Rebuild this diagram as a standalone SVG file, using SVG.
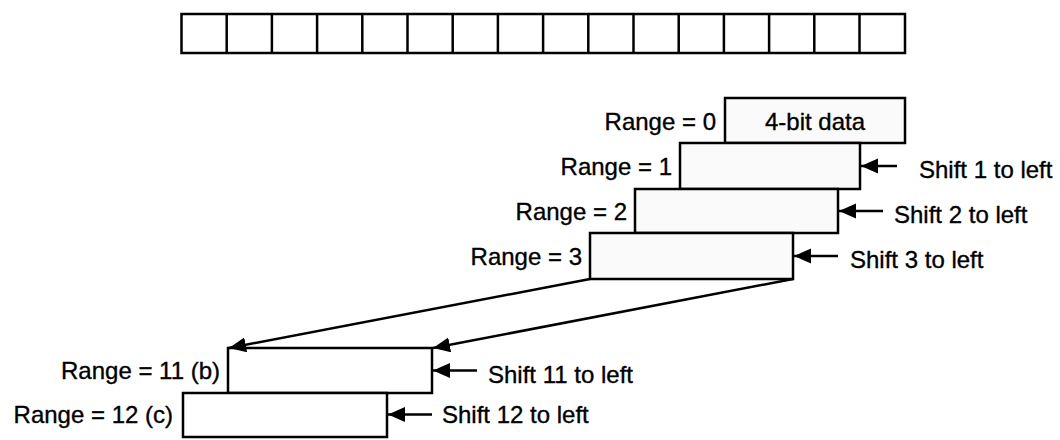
<svg xmlns="http://www.w3.org/2000/svg" width="1060" height="440" viewBox="0 0 1060 440">
<style>
text{font-family:"Liberation Sans",Arial,Helvetica,sans-serif;font-size:24px;fill:#000;stroke:#000;stroke-width:0.35}
.lbl{text-anchor:end}
.box{stroke:#000;stroke-width:2.5;fill:#fafafa}
.wbox{stroke:#000;stroke-width:2.5;fill:#fff}
.cell{stroke:#000;stroke-width:2.5;fill:#fff}
.con{stroke:#000;stroke-width:2.5;fill:none;marker-end:url(#ah)}
</style>
<defs>
<marker id="ah" markerUnits="userSpaceOnUse" markerWidth="18" markerHeight="16" refX="17" refY="7.5" orient="auto">
<path d="M0,0 L17,7.5 L0,15 z" fill="#000"/>
</marker>
</defs>
<rect width="1060" height="440" fill="#fff" stroke="none"/>
<g id="register">
<rect class="cell" x="181.5" y="14" width="723.5" height="39"/>
<path stroke="#000" stroke-width="2.5" d="M226.7,14V53M271.9,14V53M317.1,14V53M362.3,14V53M407.5,14V53M452.7,14V53M497.9,14V53M543.1,14V53M588.3,14V53M633.5,14V53M678.7,14V53M723.9,14V53M769.1,14V53M814.3,14V53M859.5,14V53"/>
</g>
<g id="range0">
<rect class="box" x="725" y="98" width="180" height="45"/>
<text x="815" y="129.5" text-anchor="middle">4-bit data</text>
<text class="lbl" x="716" y="129.5">Range = 0</text>
</g>
<g id="range1">
<rect class="box" x="680" y="143" width="180" height="46"/>
<text class="lbl" x="672" y="174.5">Range = 1</text>
<text x="919" y="178">Shift 1 to left</text>
</g>
<g id="range2">
<rect class="box" x="635" y="189" width="203" height="44"/>
<text class="lbl" x="627" y="219.5">Range = 2</text>
<text x="894" y="223">Shift 2 to left</text>
</g>
<g id="range3">
<rect class="box" x="590" y="233" width="203" height="46"/>
<text class="lbl" x="582" y="264.5">Range = 3</text>
<text x="850" y="268">Shift 3 to left</text>
</g>
<g id="range11">
<rect class="wbox" x="228" y="348" width="204" height="45"/>
<text class="lbl" x="220" y="379">Range = 11 (b)</text>
<text x="488" y="383">Shift 11 to left</text>
</g>
<g id="range12">
<rect class="wbox" x="183" y="393" width="204" height="44"/>
<text class="lbl" x="173" y="423">Range = 12 (c)</text>
<text x="442" y="423">Shift 12 to left</text>
</g>
<g id="connectors">
<line class="con" x1="897" y1="166" x2="861" y2="166"/>
<line class="con" x1="883" y1="211" x2="839" y2="211"/>
<line class="con" x1="838" y1="256" x2="794" y2="256"/>
<line class="con" x1="477" y1="370.5" x2="433" y2="370.5"/>
<line class="con" x1="432" y1="414.5" x2="388" y2="414.5"/>
<line class="con" x1="590" y1="279" x2="229" y2="348"/>
<line class="con" x1="793" y1="279" x2="433" y2="348"/>
</g>
</svg>
